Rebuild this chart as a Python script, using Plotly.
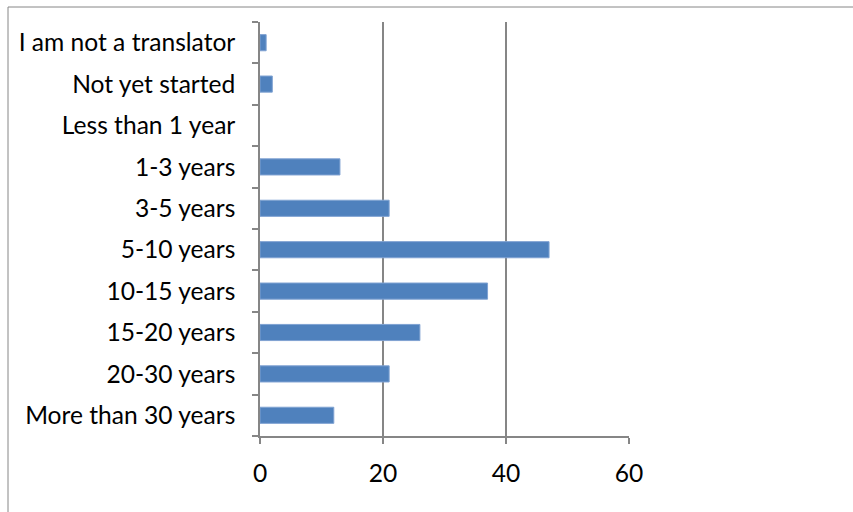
import plotly.graph_objects as go

# Years of experience as a translator (responses)
categories = [
    "More than 30 years",
    "20-30 years",
    "15-20 years",
    "10-15 years",
    "5-10 years",
    "3-5 years",
    "1-3 years",
    "Less than 1 year",
    "Not yet started",
    "I am not a translator",
]
counts = [12, 21, 26, 37, 47, 21, 13, 0, 2, 1]

x_ticks = [0, 20, 40, 60]

W, H = 853, 512
L, R, T, B = 260, 224, 22, 76
pw, ph = W - L - R, H - T - B

fig = go.Figure(
    go.Bar(
        x=counts,
        y=categories,
        orientation="h",
        width=0.39,
        marker=dict(
            color="#4F81BD",
            line=dict(color="#7FA2D2", width=[1 if v > 0 else 0 for v in counts]),
        ),
        hoverinfo="x+y",
    )
)

axis_grey = "#868686"
fig.update_layout(
    width=W,
    height=H,
    margin=dict(l=L, r=R, t=T, b=B),
    paper_bgcolor="white",
    plot_bgcolor="white",
    showlegend=False,
    font=dict(family="Lato, Carlito, Calibri, sans-serif", size=24.6, color="black"),
    xaxis=dict(
        range=[0, 60],
        tickvals=x_ticks,
        ticktext=[str(v) for v in x_ticks],
        showgrid=True,
        gridcolor=axis_grey,
        gridwidth=1.5,
        zeroline=False,
        showline=True,
        linecolor=axis_grey,
        linewidth=1.5,
        ticks="outside",
        ticklen=6,
        tickcolor=axis_grey,
        tickwidth=1.5,
        ticklabelstandoff=9,
        fixedrange=True,
    ),
    yaxis=dict(
        categoryorder="array",
        categoryarray=categories,
        showgrid=False,
        zeroline=False,
        showline=True,
        linecolor=axis_grey,
        linewidth=1.5,
        ticks="outside",
        tickson="boundaries",
        ticklen=6,
        tickcolor=axis_grey,
        tickwidth=1.5,
        ticklabelstandoff=18,
        fixedrange=True,
    ),
)

# Chart-area frame
fig.add_shape(
    type="rect",
    xref="paper",
    yref="paper",
    x0=(8 - L) / pw,
    x1=(W + 20 - L) / pw,
    y0=-(B + 20) / ph,
    y1=1 + (T - 7) / ph,
    line=dict(color=axis_grey, width=1),
    fillcolor="rgba(0,0,0,0)",
    layer="below",
)

fig.write_html("out.html")
